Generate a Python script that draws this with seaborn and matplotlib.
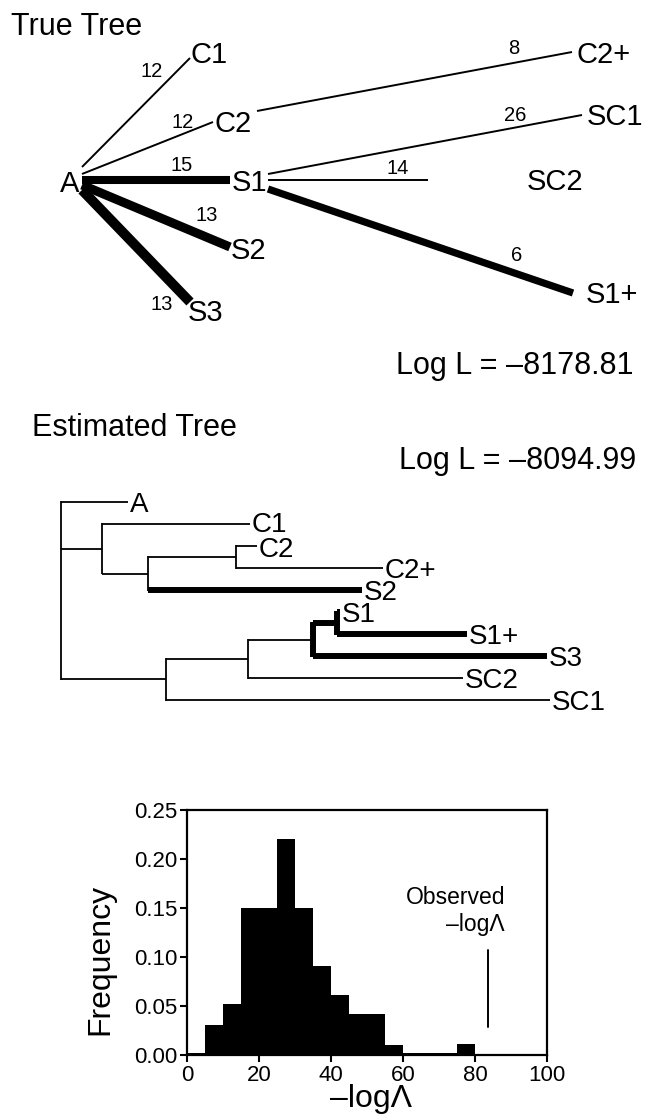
import numpy as np
import matplotlib
matplotlib.use("Agg")
import matplotlib.pyplot as plt
import seaborn as sns

# ------------------------------------------------------------------ data
# True tree: branches (parent -> child), branch-length labels, highlighted lineage
true_parent = ["A", "A", "A", "A", "A", "C2", "S1", "S1", "S1"]
true_child = ["C1", "C2", "S1", "S2", "S3", "C2+", "SC1", "SC2", "S1+"]
true_length = [12, 12, 15, 13, 13, 8, 26, 14, 6]
true_thick = [False, False, True, True, True, False, False, False, True]
true_logL = "–8178.81"

# Estimated tree: child, parent, branch length (arbitrary units), leaf order
est_child = ["A", "N1", "N4", "C1", "N2", "N3", "S2", "C2", "C2+",
             "N5", "SC1", "N6", "SC2", "N7", "S3", "S1", "S1+"]
est_parent = ["root", "root", "root", "N1", "N1", "N2", "N2", "N3", "N3",
              "N4", "N4", "N5", "N5", "N6", "N6", "N7", "N7"]
est_length = [67, 41, 105, 148, 46, 88, 214, 21, 147,
              82, 384, 65, 215, 24, 234, 3, 130]
est_leaf_order = ["A", "C1", "C2", "C2+", "S2", "S1", "S1+", "S3", "SC2", "SC1"]
est_thick_edges = ["S2", "N7", "S3", "S1", "S1+"]
est_thick_nodes = ["N6", "N7"]
est_logL = "–8094.99"

# Histogram of -log Lambda
bin_edges = list(range(0, 105, 5))
freq = [0.002, 0.031, 0.052, 0.150, 0.150, 0.220, 0.150, 0.091, 0.061, 0.042,
        0.042, 0.010, 0.002, 0.002, 0.002, 0.011, 0.0, 0.0, 0.0, 0.0]
observed = 83.6

# ------------------------------------------------------------------ layout (pixels)
W, H = 647, 1120
true_pos = {"A": (82, 181), "C1": (190, 58), "C2": (213, 122), "S1": (230, 180),
            "S2": (230, 247), "S3": (190, 302), "C2+": (572, 52), "SC1": (582, 115),
            "SC2": (428, 180), "S1+": (573, 293)}
true_start = {"C1": (82, 167), "C2": (82, 174), "S1": (82, 180), "S2": (82, 185),
              "S3": (82, 190), "C2+": (257, 111), "SC1": (268, 174),
              "SC2": (268, 180), "S1+": (268, 189)}
true_width = {"S1": 5.8, "S2": 6.5, "S3": 7.2, "S1+": 5.2}
true_label_pos = {"A": (79, 182), "C1": (191, 53), "C2": (214, 122), "S1": (232, 181),
                  "S2": (231, 249), "S3": (188, 311), "C2+": (577, 53),
                  "SC1": (587, 115), "SC2": (527, 180), "S1+": (586, 293)}
true_num_pos = {"C1": (152, 70), "C2": (183, 121), "S1": (182, 164), "S2": (207, 214),
                "S3": (162, 303), "C2+": (514, 47), "SC1": (515, 114),
                "SC2": (398, 167), "S1+": (517, 254)}
est_x0, est_y0, est_dy = 61, 502, 22
est_label_dy = {"C1": -2, "C2": 1}

sns.set_theme(style="ticks")
plt.rcParams["font.family"] = ["Liberation Sans", "DejaVu Sans"]
plt.rcParams["text.color"] = "black"
plt.rcParams["axes.labelcolor"] = "black"
plt.rcParams["xtick.color"] = "black"
plt.rcParams["ytick.color"] = "black"

fig = plt.figure(figsize=(W / 100, H / 100), dpi=100)
ax = fig.add_axes([0, 0, 1, 1])
ax.set_xlim(0, W)
ax.set_ylim(H, 0)
ax.axis("off")


def label(x, y, s, size, ha="left"):
    cap = size * 100 / 72 * 0.716
    ax.text(x, y + cap / 2, s, fontsize=size, ha=ha, va="baseline", color="black")


# ---------------- True tree
label(11, 24, "True Tree", 22)
for p, c, L, thick in zip(true_parent, true_child, true_length, true_thick):
    x0, y0 = true_start[c]
    x1, y1 = true_pos[c]
    lw = true_width[c] if thick else 1.4
    ax.plot([x0, x1], [y0, y1], color="black", lw=lw, solid_capstyle="butt")
    nx, ny = true_num_pos[c]
    label(nx, ny, str(L), 14.5, ha="center")
for n, (lx, ly) in true_label_pos.items():
    label(lx, ly, n, 21, ha="right" if n == "A" else "left")
label(634, 363, "Log L = " + true_logL, 22, ha="right")

# ---------------- Estimated tree
label(32, 425, "Estimated Tree", 22)
label(636, 458, "Log L = " + est_logL, 22, ha="right")

parent_of = dict(zip(est_child, est_parent))
length_of = dict(zip(est_child, est_length))
children = {}
for c, p in zip(est_child, est_parent):
    children.setdefault(p, []).append(c)

xpos = {"root": est_x0}
for c in est_child:  # parents listed before children
    xpos[c] = xpos[parent_of[c]] + length_of[c]
ypos = {leaf: est_y0 + i * est_dy for i, leaf in enumerate(est_leaf_order)}


def get_y(n):
    if n not in ypos:
        ys = [get_y(k) for k in children[n]]
        ypos[n] = (min(ys) + max(ys)) / 2
    return ypos[n]


get_y("root")
for c in est_child:
    lw = 4.3 if c in est_thick_edges else 1.3
    ax.plot([xpos[parent_of[c]], xpos[c]], [ypos[c], ypos[c]], color="black",
            lw=lw, solid_capstyle="butt")
for n, kids in children.items():
    ys = [ypos[k] for k in kids]
    lw = 4.3 if n in est_thick_nodes else 1.3
    ax.plot([xpos[n], xpos[n]], [min(ys) - 0.6, max(ys) + 0.6], color="black",
            lw=lw, solid_capstyle="butt")
for leaf in est_leaf_order:
    label(xpos[leaf] + 2, ypos[leaf] + est_label_dy.get(leaf, 0), leaf, 20)

# ---------------- Histogram
axh = fig.add_axes([187 / W, 65 / H, 360 / W, 245 / H])
centers = np.array(bin_edges[:-1]) + 2.5
sns.histplot(x=centers, weights=freq, bins=bin_edges, color="black", alpha=1,
             linewidth=0, ax=axh)
axh.set_xlim(0, 100)
axh.set_ylim(0, 0.25)
axh.set_xticks([0, 20, 40, 60, 80, 100])
axh.set_yticks([0, 0.05, 0.10, 0.15, 0.20, 0.25])
axh.set_yticklabels([f"{v:.2f}" for v in [0, 0.05, 0.10, 0.15, 0.20, 0.25]])
for s in axh.spines.values():
    s.set_linewidth(1.6)
    s.set_color("black")
axh.tick_params(direction="out", length=5, width=1.5, labelsize=16, colors="black", pad=2)
axh.set_ylabel("Frequency", fontsize=23, color="black")
axh.set_xlabel("–logΛ", fontsize=23, color="black")
axh.yaxis.set_label_coords(-0.2, 0.39)
axh.xaxis.set_label_coords(0.51, -0.12)
axh.plot([observed, observed], [0.029, 0.107], color="black", lw=1.4)
axh.text(88.3, 0.161, "Observed", fontsize=16.5, ha="right", va="center", color="black")
axh.text(88.3, 0.133, "–logΛ", fontsize=16.5, ha="right", va="center", color="black")

fig.savefig("out.png", dpi=100, facecolor="white")
